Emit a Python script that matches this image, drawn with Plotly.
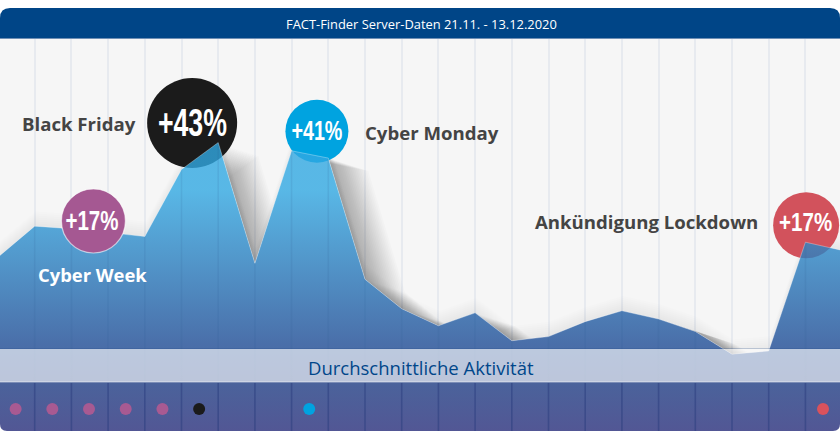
import plotly.graph_objects as go

W, H = 840, 440
DAY_PX = 36.7
X0_PX = -2

# Daily activity, % above the average level (21.11. - 13.12.2020)
days = list(range(24))
activity = [21, 27, 26.5, 25.8, 25, 38, 43.2, 19.8, 41.6, 40.2, 16.7, 11, 7.7, 10.2, 4.8, 5.6, 8.5, 10.6, 9, 6.6, 2.2, 2.8, 23.9, 22.3]

# Event badges
badge_days = [5.29, 8.69, 22.02]
badge_levels = [47, 45.4, 27.2]
badge_labels = ["+43%", "+41%", "+17%"]
badge_colors = ["#1b1b1b", "#00a3e0", "#d2525c"]
badge_sizes = [90, 63, 66]
cyber_week_day = [2.6]
cyber_week_level = [28]
cyber_week_label = ["+17%"]

# Marker row: one dot per highlighted day
dot_days = [0, 1, 2, 3, 4, 5, 8, 22]
dot_colors = ["#a85a92"] * 5 + ["#1b1b1b", "#00a3e0", "#d9525c"]

PX_PER_UNIT = 5.16
Y_ZERO_PX = 365.5


def y_val(py):
    return (Y_ZERO_PX - py) / PX_PER_UNIT


def fx(px):
    return px / W


def fy(py):
    return 1 - py / H


def rounded_top(x0, y0, x1, y1, r):
    return (f"M{fx(x0)},{fy(y1)} L{fx(x0)},{fy(y0 + r)} Q{fx(x0)},{fy(y0)} {fx(x0 + r)},{fy(y0)} "
            f"L{fx(x1 - r)},{fy(y0)} Q{fx(x1)},{fy(y0)} {fx(x1)},{fy(y0 + r)} L{fx(x1)},{fy(y1)} Z")


fig = go.Figure()
bottom = y_val(431)
area_x = [days[0]] + days + [days[-1]]
area_y = [bottom] + activity + [bottom]


def shadow_layer(dx_px, dy_px, alpha):
    xs = [d + dx_px / DAY_PX for d in days]
    ys = [v + dy_px / PX_PER_UNIT for v in activity]
    fig.add_trace(go.Scatter(x=[xs[0] - 3, xs[0] - 3] + xs + [xs[-1] + 3, xs[-1] + 3],
                             y=[bottom, ys[0]] + ys + [ys[-1], bottom], mode="none",
                             fill="toself", fillcolor=f"rgba(0,0,0,{alpha})", hoverinfo="skip", showlegend=False))


# Soft shadow behind the area: stacked translucent copies pushed right and down
for dx in range(2, 42, 2):
    shadow_layer(dx, -dx * 0.32, 0.017)
# Faint glow above the area's edge
for up in range(1, 17, 2):
    shadow_layer(1, up, 0.008)

# Blank the shadow underneath the area so that the area stays even
fig.add_trace(go.Scatter(x=area_x, y=area_y, mode="none", fill="toself", fillcolor="#f6f6f6",
                         hoverinfo="skip", showlegend=False))

# Badges behind the area
fig.add_trace(go.Scatter(x=badge_days, y=badge_levels, mode="markers", cliponaxis=False,
                         marker=dict(size=badge_sizes, color=badge_colors, opacity=1, line=dict(width=0)),
                         hoverinfo="skip", showlegend=False))

# Activity area, running down to the bottom of the marker row
fig.add_trace(go.Scatter(
    x=area_x, y=area_y, mode="none", fill="toself",
    fillgradient=dict(type="vertical", start=y_val(431), stop=y_val(190),
                      colorscale=[[0, "rgba(41,47,124,0.8)"], [0.19, "rgba(32,61,132,0.8)"],
                                  [0.36, "rgba(31,77,150,0.8)"], [1, "rgba(49,168,226,0.8)"]]),
    hoverinfo="skip", showlegend=False))

# Faint day lines inside the area
for d, v in zip(days, activity):
    fig.add_trace(go.Scatter(x=[d, d], y=[bottom, v], mode="lines",
                             line=dict(color="rgba(50,90,150,0.13)", width=1.5),
                             hoverinfo="skip", showlegend=False))

fig.add_trace(go.Scatter(x=days, y=activity, mode="lines", line=dict(color="rgba(255,255,255,0.3)", width=1),
                         hoverinfo="skip", showlegend=False))

# Cyber Week badge sits on top of the area
fig.add_trace(go.Scatter(x=cyber_week_day, y=cyber_week_level, mode="markers", cliponaxis=False,
                         marker=dict(size=64, color="#a55892", opacity=1,
                                     line=dict(width=1.2, color="rgba(255,255,255,0.6)")),
                         hoverinfo="skip", showlegend=False))

# Row of day markers
fig.add_trace(go.Scatter(x=[d + 0.48 for d in dot_days], y=[y_val(409)] * len(dot_days), mode="markers",
                         marker=dict(size=12, color=dot_colors, opacity=1, line=dict(width=0)),
                         hoverinfo="skip", showlegend=False))

shapes = [
    # panel
    dict(type="rect", xref="paper", yref="paper", x0=0, x1=1, y0=fy(431), y1=fy(30),
         fillcolor="#f6f6f6", line_width=0, layer="below"),
    # average band
    dict(type="rect", xref="paper", yref="paper", x0=0, x1=1, y0=fy(382), y1=fy(349),
         fillcolor="rgba(255,255,255,0.63)", line_width=0, layer="above"),
    dict(type="line", xref="paper", yref="paper", x0=0, x1=1, y0=fy(382), y1=fy(382),
         line=dict(color="rgba(255,255,255,0.55)", width=1), layer="above"),
    dict(type="line", xref="paper", yref="paper", x0=0, x1=1, y0=fy(348.5), y1=fy(348.5),
         line=dict(color="rgba(40,80,140,0.25)", width=1), layer="above"),
    # rounded bottom corners
    dict(type="path", xref="paper", yref="paper",
         path=f"M{fx(0)},{fy(431)} L{fx(0)},{fy(424)} Q{fx(0)},{fy(431)} {fx(7)},{fy(431)} Z",
         fillcolor="#ffffff", line_width=0, layer="above"),
    dict(type="path", xref="paper", yref="paper",
         path=f"M{fx(W)},{fy(431)} L{fx(W)},{fy(424)} Q{fx(W)},{fy(431)} {fx(W - 7)},{fy(431)} Z",
         fillcolor="#ffffff", line_width=0, layer="above"),
    dict(type="rect", xref="paper", yref="paper", x0=0, x1=1, y0=fy(440), y1=fy(431),
         fillcolor="#ffffff", line_width=0, layer="above"),
    dict(type="rect", xref="paper", yref="paper", x0=0, x1=1, y0=fy(8), y1=fy(0),
         fillcolor="#ffffff", line_width=0, layer="above"),
    # header
    dict(type="path", xref="paper", yref="paper", path=rounded_top(0, 8, W, 38, 10),
         fillcolor="#004587", line_width=0, layer="above"),
    dict(type="line", xref="paper", yref="paper", x0=0, x1=1, y0=fy(38.5), y1=fy(38.5),
         line=dict(color="#6f8fb5", width=1), layer="above"),
]
# darker day separators in the marker row
for d in days[1:23]:
    shapes.append(dict(type="line", xref="x", yref="paper", x0=d, x1=d, y0=fy(431), y1=fy(383),
                       line=dict(color="rgba(45,60,125,0.5)", width=1.5), layer="above"))


def label(px, py, text, color="#444444", size=18.6, anchor="center", family="Open Sans", bold=True):
    return dict(xref="paper", yref="paper", x=fx(px), y=fy(py), xanchor=anchor, yanchor="middle",
                text=f"<b>{text}</b>" if bold else text, showarrow=False,
                font=dict(family=family, size=size, color=color))


NARROW = "Liberation Sans"
annotations = [
    label(421, 24, "FACT-Finder Server-Daten 21.11. - 13.12.2020", "#ffffff", 12.9, bold=False),
    label(138, 124, "Black Friday", anchor="right"),
    label(363, 132.5, "Cyber Monday", anchor="left"),
    label(92.5, 274, "Cyber Week", "#ffffff", 18.4),
    label(760, 221.5, "Ankündigung Lockdown", anchor="right"),
    label(421, 367, "Durchschnittliche Aktivität", "#00468a", 18.5, bold=False),
    label(192, 122, badge_labels[0], "#ffffff", 39, family=NARROW),
    label(317, 131, badge_labels[1], "#ffffff", 27, family=NARROW),
    label(92, 221, cyber_week_label[0], "#ffffff", 27, family=NARROW),
    label(805, 222, badge_labels[2], "#ffffff", 26, family=NARROW),
]

fig.update_layout(
    width=W, height=H, margin=dict(l=0, r=0, t=0, b=0), paper_bgcolor="#ffffff", plot_bgcolor="rgba(0,0,0,0)",
    showlegend=False, shapes=shapes, annotations=annotations,
    xaxis=dict(range=[-X0_PX / DAY_PX, (W - X0_PX) / DAY_PX], dtick=1, tick0=0, showgrid=True,
               gridcolor="#e7eaef", gridwidth=1.5, zeroline=False, showticklabels=False, ticks="", fixedrange=True),
    yaxis=dict(range=[y_val(H), y_val(0)], showgrid=False, zeroline=False, showticklabels=False, ticks="",
               fixedrange=True),
)

# Page without body margin; badge percentages are set in a condensed width
post = """
document.body.style.margin = '0';
function squeeze() {
  var widths = {'+43%': 69, '+41%': 51, '+17%': 53};
  document.querySelectorAll('.annotation-text').forEach(function (t) {
    var w = widths[t.textContent];
    if (w) { t.setAttribute('textLength', w); t.setAttribute('lengthAdjust', 'spacingAndGlyphs'); }
  });
}
squeeze();
setTimeout(squeeze, 50);
setTimeout(squeeze, 300);
"""
fig.write_html("out.html", config={"displayModeBar": False}, post_script=post)
